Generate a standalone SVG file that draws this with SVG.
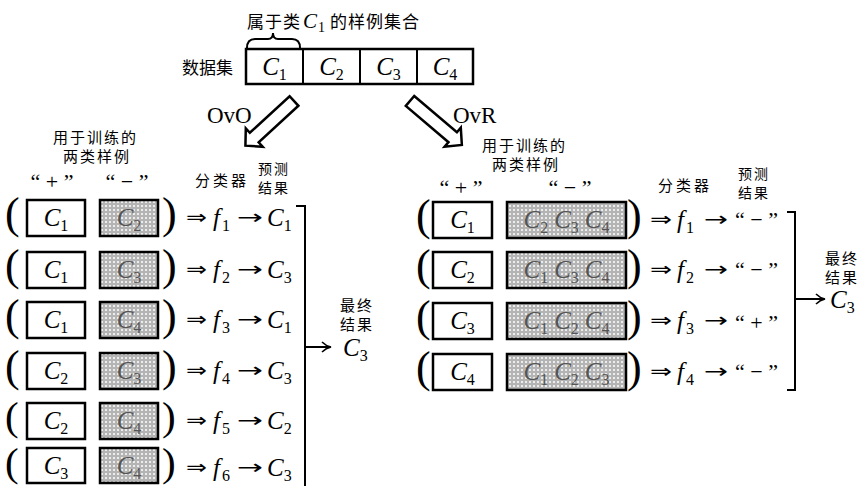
<svg xmlns="http://www.w3.org/2000/svg" width="859" height="486" viewBox="0 0 859 486">
<defs>
<pattern id="dots" width="4" height="4" patternUnits="userSpaceOnUse">
<rect width="4" height="4" fill="#b4b4b4"/>
<rect x="1" y="1" width="2" height="2" fill="#ececec"/>
</pattern>
<marker id="arr" markerWidth="12" markerHeight="12" refX="10" refY="6" orient="auto" markerUnits="userSpaceOnUse">
<path d="M2,1 Q6,5 11,6 Q6,7 2,11" fill="none" stroke="#000" stroke-width="1.6"/>
</marker>
</defs>
<style>
text{fill:#000}
.cn{font-family:"Noto Sans CJK SC","Noto Sans CJK JP",sans-serif;font-size:15px;letter-spacing:2px}
.cs{font-family:"Noto Sans CJK SC","Noto Sans CJK JP",sans-serif;font-size:14px;letter-spacing:2px}
.m{font-family:"Liberation Serif",serif;font-style:italic;font-size:25px}
.g{fill:#555}
.s{font-style:normal;font-size:16px}
.r{font-family:"Liberation Serif",serif;font-size:23px}
.q{font-family:"Liberation Serif",serif;font-size:22px}
.p{font-family:"Liberation Serif",serif;font-size:44px}
.a{font-family:"DejaVu Sans",sans-serif;font-size:20px}
.box{fill:#fff;stroke:#000;stroke-width:2.5}
.dbox{fill:url(#dots);stroke:#000;stroke-width:2.5}
.ln{fill:none;stroke:#000;stroke-width:2}
.hollow{fill:#fff;stroke:#000;stroke-width:2.5;stroke-linejoin:miter}
</style>
<rect width="859" height="486" fill="#fff"/>

<g id="dataset">
<text class="cn" x="247" y="28" style="font-size:17px;letter-spacing:1px">属于类<tspan class="m" style="font-size:21px" dx="2">C</tspan><tspan class="m s" style="font-size:14px" dy="4">1</tspan><tspan dy="-4" dx="4">的样例集合</tspan></text>
<path class="ln" d="M247,48 Q247,39 255,39 L268,39 Q273,39 273,33 Q273,39 278,39 L292,39 Q300,39 300,48"/>
<text class="cn" x="182" y="74" style="font-size:17px;letter-spacing:0">数据集</text>
<rect class="box" x="246" y="49" width="227" height="35"/>
<line class="ln" x1="303" y1="49" x2="303" y2="84" stroke-width="2.5"/>
<line class="ln" x1="360" y1="49" x2="360" y2="84" stroke-width="2.5"/>
<line class="ln" x1="417" y1="49" x2="417" y2="84" stroke-width="2.5"/>
<text class="m" x="274.5" y="75" text-anchor="middle">C<tspan class="s" dy="5">1</tspan></text>
<text class="m" x="331.5" y="75" text-anchor="middle">C<tspan class="s" dy="5">2</tspan></text>
<text class="m" x="388.5" y="75" text-anchor="middle">C<tspan class="s" dy="5">3</tspan></text>
<text class="m" x="445" y="75" text-anchor="middle">C<tspan class="s" dy="5">4</tspan></text>
</g>

<g id="connectors">
<polygon class="hollow" transform="translate(294,101) rotate(137.4)" points="0,-6.5 54,-6.5 54,-12.5 66,0 54,12.5 54,6.5 0,6.5"/>
<polygon class="hollow" transform="translate(410,101) rotate(40.3)" points="0,-6.5 56,-6.5 56,-12.5 68,0 56,12.5 56,6.5 0,6.5"/>
<path class="ln" d="M296,206 L305,206 L305,486"/>
<line class="ln" x1="305" y1="347" x2="330" y2="347" marker-end="url(#arr)"/>
<path class="ln" d="M787,212 L795,212 L795,390 L787,390"/>
<line class="ln" x1="795" y1="299" x2="824" y2="299" marker-end="url(#arr)"/>
</g>

<g id="ovo-label"><text class="r" x="207" y="123">OvO</text></g>
<g id="ovr-label"><text class="r" x="453" y="123">OvR</text></g>

<g id="ovo-header">
<text class="cn" x="53" y="143">用于训练的</text>
<text class="cn" x="63" y="162">两类样例</text>
<text class="q" x="52" y="189" text-anchor="middle">“ + ”</text>
<text class="q" x="127" y="189" text-anchor="middle">“ − ”</text>
<text class="cn" x="195" y="186" style="letter-spacing:3px">分类器</text>
<text class="cs" x="258" y="174">预测</text>
<text class="cs" x="258" y="193">结果</text>
</g>

<g id="ovo-row1">
<text class="p" x="5" y="228">(</text><text class="p" x="162" y="228">)</text>
<rect class="box" x="27" y="200" width="58" height="36"/>
<rect class="dbox" x="100" y="200" width="58" height="36"/>
<text class="m" x="56" y="226" text-anchor="middle">C<tspan class="s" dy="5">1</tspan></text>
<text class="m g" x="129" y="226" text-anchor="middle">C<tspan class="s" dy="5">2</tspan></text>
<text class="a" x="186" y="224" textLength="21" lengthAdjust="spacingAndGlyphs">⇒</text>
<text class="m" x="213" y="226">f<tspan class="s" dx="2" dy="5">1</tspan></text>
<text class="a" x="237" y="224" textLength="26" lengthAdjust="spacingAndGlyphs">→</text>
<text class="m" x="267" y="226">C<tspan class="s" dy="5">1</tspan></text>
</g>

<g id="ovo-row2">
<text class="p" x="5" y="280">(</text><text class="p" x="162" y="280">)</text>
<rect class="box" x="27" y="252" width="58" height="36"/>
<rect class="dbox" x="100" y="252" width="58" height="36"/>
<text class="m" x="56" y="278" text-anchor="middle">C<tspan class="s" dy="5">1</tspan></text>
<text class="m g" x="129" y="278" text-anchor="middle">C<tspan class="s" dy="5">3</tspan></text>
<text class="a" x="186" y="276" textLength="21" lengthAdjust="spacingAndGlyphs">⇒</text>
<text class="m" x="213" y="278">f<tspan class="s" dx="2" dy="5">2</tspan></text>
<text class="a" x="237" y="276" textLength="26" lengthAdjust="spacingAndGlyphs">→</text>
<text class="m" x="267" y="278">C<tspan class="s" dy="5">3</tspan></text>
</g>

<g id="ovo-row3">
<text class="p" x="5" y="330">(</text><text class="p" x="162" y="330">)</text>
<rect class="box" x="27" y="302" width="58" height="36"/>
<rect class="dbox" x="100" y="302" width="58" height="36"/>
<text class="m" x="56" y="328" text-anchor="middle">C<tspan class="s" dy="5">1</tspan></text>
<text class="m g" x="129" y="328" text-anchor="middle">C<tspan class="s" dy="5">4</tspan></text>
<text class="a" x="186" y="326" textLength="21" lengthAdjust="spacingAndGlyphs">⇒</text>
<text class="m" x="213" y="328">f<tspan class="s" dx="2" dy="5">3</tspan></text>
<text class="a" x="237" y="326" textLength="26" lengthAdjust="spacingAndGlyphs">→</text>
<text class="m" x="267" y="328">C<tspan class="s" dy="5">1</tspan></text>
</g>

<g id="ovo-row4">
<text class="p" x="5" y="381">(</text><text class="p" x="162" y="381">)</text>
<rect class="box" x="27" y="353" width="58" height="36"/>
<rect class="dbox" x="100" y="353" width="58" height="36"/>
<text class="m" x="56" y="379" text-anchor="middle">C<tspan class="s" dy="5">2</tspan></text>
<text class="m g" x="129" y="379" text-anchor="middle">C<tspan class="s" dy="5">3</tspan></text>
<text class="a" x="186" y="377" textLength="21" lengthAdjust="spacingAndGlyphs">⇒</text>
<text class="m" x="213" y="379">f<tspan class="s" dx="2" dy="5">4</tspan></text>
<text class="a" x="237" y="377" textLength="26" lengthAdjust="spacingAndGlyphs">→</text>
<text class="m" x="267" y="379">C<tspan class="s" dy="5">3</tspan></text>
</g>

<g id="ovo-row5">
<text class="p" x="5" y="430" style="font-size:41px">(</text><text class="p" x="162" y="430" style="font-size:41px">)</text>
<rect class="box" x="27" y="403" width="58" height="36"/>
<rect class="dbox" x="100" y="403" width="58" height="36"/>
<text class="m" x="56" y="429" text-anchor="middle">C<tspan class="s" dy="5">2</tspan></text>
<text class="m g" x="129" y="429" text-anchor="middle">C<tspan class="s" dy="5">4</tspan></text>
<text class="a" x="186" y="427" textLength="21" lengthAdjust="spacingAndGlyphs">⇒</text>
<text class="m" x="213" y="429">f<tspan class="s" dx="2" dy="5">5</tspan></text>
<text class="a" x="237" y="427" textLength="26" lengthAdjust="spacingAndGlyphs">→</text>
<text class="m" x="267" y="429">C<tspan class="s" dy="5">2</tspan></text>
</g>

<g id="ovo-row6">
<text class="p" x="5" y="476" style="font-size:41px">(</text><text class="p" x="162" y="476" style="font-size:41px">)</text>
<rect class="box" x="27" y="448" width="58" height="35"/>
<rect class="dbox" x="100" y="448" width="58" height="35"/>
<text class="m" x="56" y="474" text-anchor="middle">C<tspan class="s" dy="5">3</tspan></text>
<text class="m g" x="129" y="474" text-anchor="middle">C<tspan class="s" dy="5">4</tspan></text>
<text class="a" x="186" y="474" textLength="21" lengthAdjust="spacingAndGlyphs">⇒</text>
<text class="m" x="213" y="476">f<tspan class="s" dx="2" dy="5">6</tspan></text>
<text class="a" x="237" y="474" textLength="26" lengthAdjust="spacingAndGlyphs">→</text>
<text class="m" x="267" y="476">C<tspan class="s" dy="5">3</tspan></text>
</g>

<g id="ovo-result">
<text class="cn" x="340" y="311">最终</text>
<text class="cn" x="340" y="330">结果</text>
<text class="m" x="343" y="356">C<tspan class="s" dy="5">3</tspan></text>
</g>

<g id="ovr-header">
<text class="cn" x="482" y="151">用于训练的</text>
<text class="cn" x="492" y="170">两类样例</text>
<text class="q" x="461" y="195" text-anchor="middle">“ + ”</text>
<text class="q" x="570" y="195" text-anchor="middle">“ − ”</text>
<text class="cn" x="658" y="191" style="letter-spacing:3px">分类器</text>
<text class="cs" x="738" y="179">预测</text>
<text class="cs" x="738" y="198">结果</text>
</g>

<g id="ovr-row1">
<text class="p" x="416" y="230">(</text><text class="p" x="627" y="230">)</text>
<rect class="box" x="433" y="202" width="59" height="36"/>
<rect class="dbox" x="507" y="202" width="119" height="36"/>
<text class="m" x="462.5" y="228" text-anchor="middle">C<tspan class="s" dy="5">1</tspan></text>
<text class="m g" x="566.5" y="228" text-anchor="middle">C<tspan class="s" dy="5">2</tspan><tspan dy="-5" dx="6">C</tspan><tspan class="s" dy="5">3</tspan><tspan dy="-5" dx="6">C</tspan><tspan class="s" dy="5">4</tspan></text>
<text class="a" x="650" y="226" textLength="22" lengthAdjust="spacingAndGlyphs">⇒</text>
<text class="m" x="677" y="228">f<tspan class="s" dx="2" dy="5">1</tspan></text>
<text class="a" x="704" y="226" textLength="24" lengthAdjust="spacingAndGlyphs">→</text>
<text class="q" x="735" y="227">“ − ”</text>
</g>

<g id="ovr-row2">
<text class="p" x="416" y="280">(</text><text class="p" x="627" y="280">)</text>
<rect class="box" x="433" y="252" width="59" height="36"/>
<rect class="dbox" x="507" y="252" width="119" height="36"/>
<text class="m" x="462.5" y="278" text-anchor="middle">C<tspan class="s" dy="5">2</tspan></text>
<text class="m g" x="566.5" y="278" text-anchor="middle">C<tspan class="s" dy="5">1</tspan><tspan dy="-5" dx="6">C</tspan><tspan class="s" dy="5">3</tspan><tspan dy="-5" dx="6">C</tspan><tspan class="s" dy="5">4</tspan></text>
<text class="a" x="650" y="276" textLength="22" lengthAdjust="spacingAndGlyphs">⇒</text>
<text class="m" x="677" y="278">f<tspan class="s" dx="2" dy="5">2</tspan></text>
<text class="a" x="704" y="276" textLength="24" lengthAdjust="spacingAndGlyphs">→</text>
<text class="q" x="735" y="277">“ − ”</text>
</g>

<g id="ovr-row3">
<text class="p" x="416" y="331">(</text><text class="p" x="627" y="331">)</text>
<rect class="box" x="433" y="303" width="59" height="36"/>
<rect class="dbox" x="507" y="303" width="119" height="36"/>
<text class="m" x="462.5" y="329" text-anchor="middle">C<tspan class="s" dy="5">3</tspan></text>
<text class="m g" x="566.5" y="329" text-anchor="middle">C<tspan class="s" dy="5">1</tspan><tspan dy="-5" dx="6">C</tspan><tspan class="s" dy="5">2</tspan><tspan dy="-5" dx="6">C</tspan><tspan class="s" dy="5">4</tspan></text>
<text class="a" x="650" y="327" textLength="22" lengthAdjust="spacingAndGlyphs">⇒</text>
<text class="m" x="677" y="329">f<tspan class="s" dx="2" dy="5">3</tspan></text>
<text class="a" x="704" y="327" textLength="24" lengthAdjust="spacingAndGlyphs">→</text>
<text class="q" x="735" y="330">“ + ”</text>
</g>

<g id="ovr-row4">
<text class="p" x="416" y="382">(</text><text class="p" x="627" y="382">)</text>
<rect class="box" x="433" y="354" width="59" height="36"/>
<rect class="dbox" x="507" y="354" width="119" height="36"/>
<text class="m" x="462.5" y="380" text-anchor="middle">C<tspan class="s" dy="5">4</tspan></text>
<text class="m g" x="566.5" y="380" text-anchor="middle">C<tspan class="s" dy="5">1</tspan><tspan dy="-5" dx="6">C</tspan><tspan class="s" dy="5">2</tspan><tspan dy="-5" dx="6">C</tspan><tspan class="s" dy="5">3</tspan></text>
<text class="a" x="650" y="378" textLength="22" lengthAdjust="spacingAndGlyphs">⇒</text>
<text class="m" x="677" y="380">f<tspan class="s" dx="2" dy="5">4</tspan></text>
<text class="a" x="704" y="378" textLength="24" lengthAdjust="spacingAndGlyphs">→</text>
<text class="q" x="735" y="379">“ − ”</text>
</g>

<g id="ovr-result">
<text class="cn" x="825" y="264">最终</text>
<text class="cn" x="825" y="283">结果</text>
<text class="m" x="830" y="308">C<tspan class="s" dy="5">3</tspan></text>
</g>
</svg>
